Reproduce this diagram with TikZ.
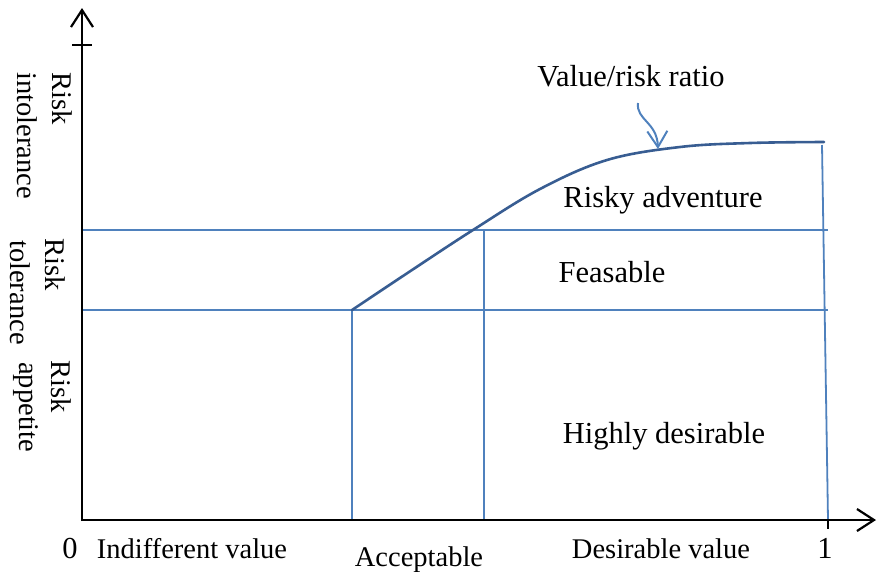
\documentclass[tikz,border=0pt]{standalone}
\usepackage{fontspec}
\setmainfont{Liberation Serif}
\usetikzlibrary{arrows.meta}
\definecolor{gridblue}{RGB}{79,129,189}
\definecolor{curveblue}{RGB}{56,93,146}
\begin{document}
\begin{tikzpicture}[x=1pt,y=-1pt,
  axis/.style={line width=2.4pt,black},
  axtip/.style={-{Straight Barb[length=17pt,width=22pt,line width=2.2pt]}},
  grid/.style={line width=1.8pt,gridblue},
  lbl/.style={inner sep=0pt,anchor=base,font=\fontsize{30.5}{36}\selectfont},
  blbl/.style={inner sep=0pt,anchor=base,font=\fontsize{28.5}{34}\selectfont},
  vlbl/.style={inner sep=0pt,anchor=base west,rotate=-90,font=\fontsize{28.5}{34}\selectfont}]
\useasboundingbox (0,0) rectangle (877,571);
% grid
\coordinate (hl1) at (82,230); \coordinate (hr1) at (828,230);
\coordinate (hl2) at (82,310); \coordinate (hr2) at (828,310);
\coordinate (va) at (352,310); \coordinate (vab) at (352,520);
\coordinate (vb) at (484,230); \coordinate (vbb) at (484,520);
\coordinate (vc) at (822,145); \coordinate (vcb) at (828,520);
\draw[grid] (hl1) -- (hr1);
\draw[grid] (hl2) -- (hr2);
\draw[grid] (va) -- (vab);
\draw[grid] (vb) -- (vbb);
\draw[grid] (vc) -- (vcb);
% curve
\draw[line width=2.6pt,curveblue,line cap=round] plot[smooth,tension=0.6] coordinates
 {(352,310) (412,270) (473,230) (540,189) (607,160) (680,147) (750,143) (824,142)};
% curly arrow
\coordinate (ca) at (638,103);
\coordinate (cb) at (658,149);
\draw[line width=2pt,gridblue,-{Straight Barb[length=16pt,width=20pt,line width=2pt]}]
 (ca) .. controls (636,120) and (657,122) .. (cb);
% axes
\coordinate (o) at (82,521);
\coordinate (ytop) at (82,8);
\coordinate (xend) at (876,520);
\draw[axis,axtip] (o) -- (ytop);
\draw[axis,axtip] (81,520) -- (xend);
\coordinate (t1) at (72,45); \coordinate (t2) at (92,45);
\draw[axis] (t1) -- (t2);
\coordinate (t3) at (828,520); \coordinate (t4) at (828,529);
\draw[axis] (t3) -- (t4);
% labels
\node[lbl] (vr) at (631,86) {Value/risk ratio};
\node[lbl] (ra) at (663,207) {Risky adventure};
\node[lbl] (fe) at (612,282) {Feasable};
\node[lbl] (hd) at (664,443) {Highly desirable};
\node[lbl] (zero) at (70,558) {0};
\node[lbl] (one) at (825,558) {1};
\node[blbl] (iv) at (192,558) {Indifferent value};
\node[blbl] (ac) at (419,566) {Acceptable};
\node[blbl] (dv) at (661,558) {Desirable value};
% rotated labels
\node[vlbl] (r1) at (52,72) {Risk};
\node[vlbl] (r1b) at (17,72) {intolerance};
\node[vlbl] (r2) at (45,238) {Risk};
\node[vlbl] (r2b) at (10,240) {tolerance};
\node[vlbl] (r3) at (51,360) {Risk};
\node[vlbl] (r3b) at (19,362) {appetite};
\end{tikzpicture}
\end{document}
